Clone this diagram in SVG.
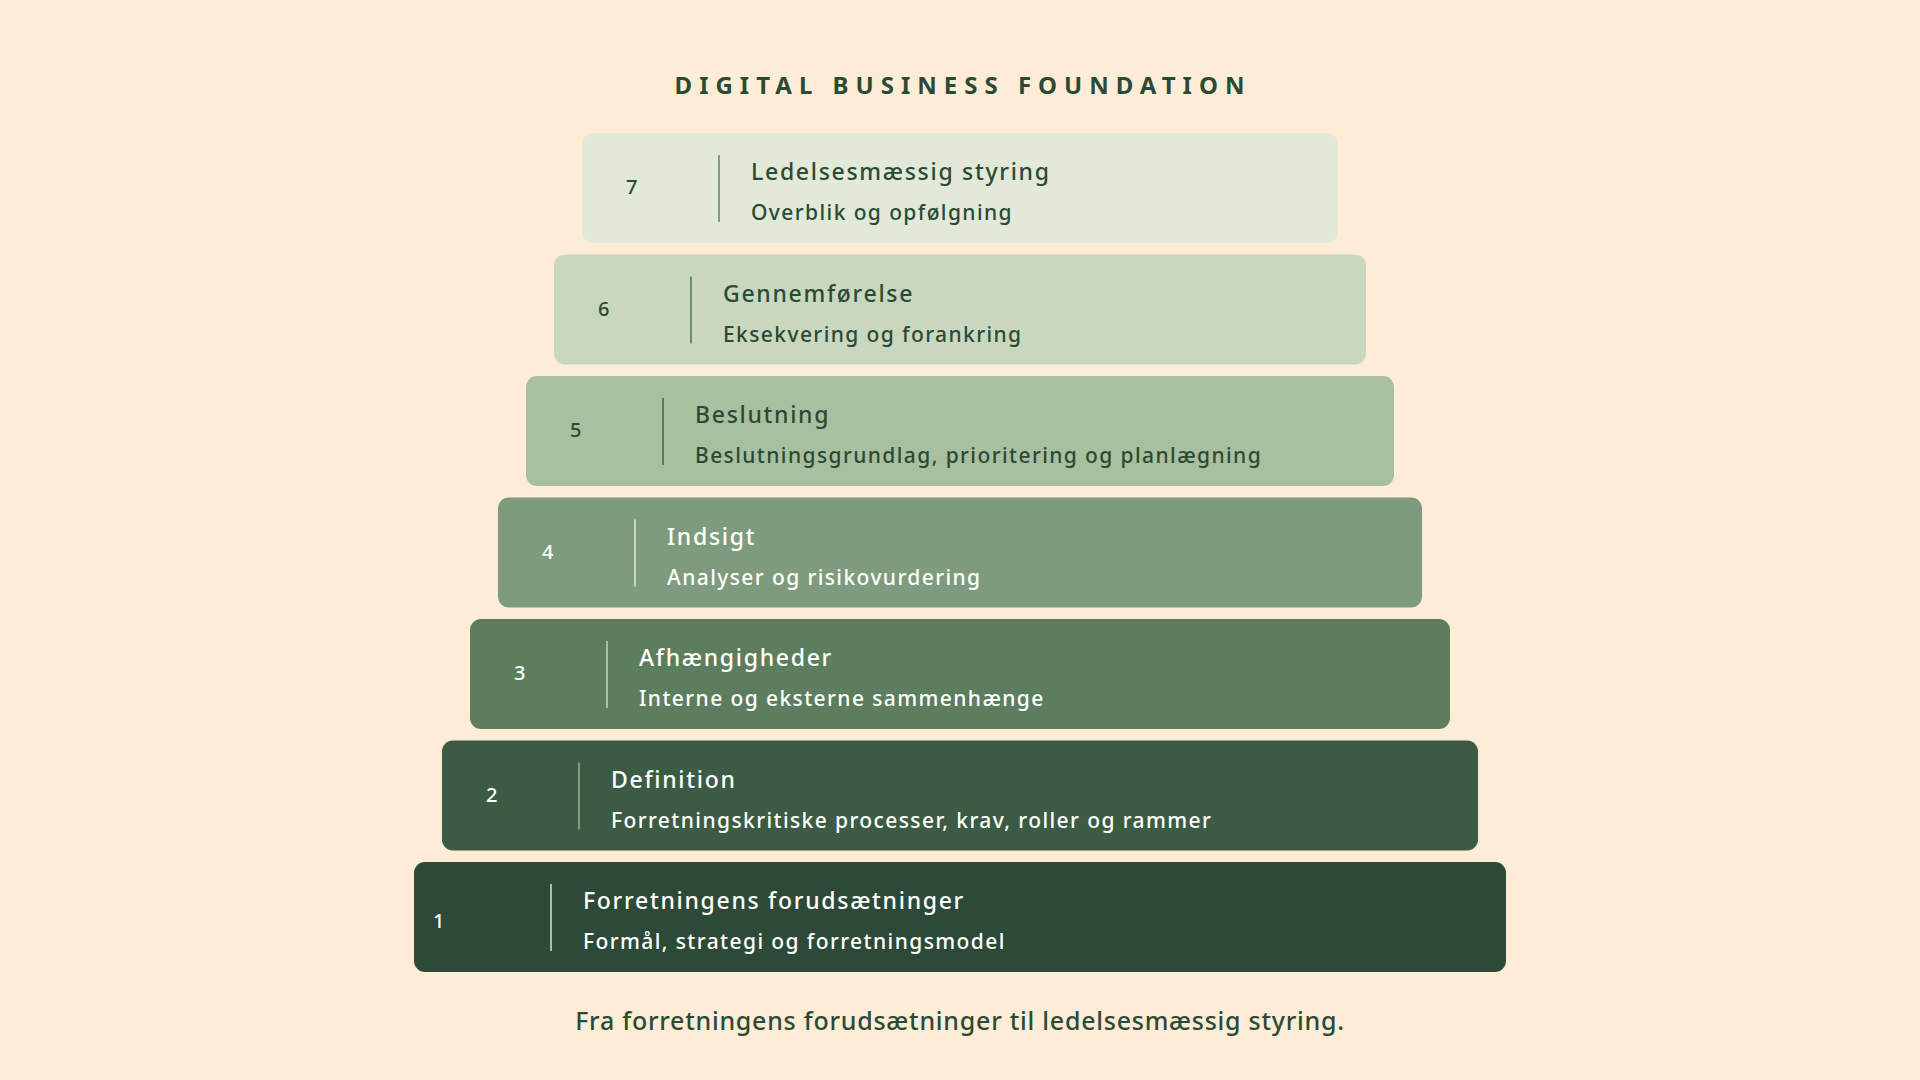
<svg xmlns="http://www.w3.org/2000/svg" width="1920" height="1080" viewBox="0 0 1920 1080">
<style>
  .bg{fill:#FEEDD6}
  .heading{font-family:"Noto Sans","DejaVu Sans",sans-serif;font-size:24px;font-weight:700;letter-spacing:7px;fill:#2B4A36}
  .footer{font-family:"Noto Sans","DejaVu Sans",sans-serif;font-size:25px;font-weight:500;letter-spacing:0.75px;fill:#2B4A36}
  .num{font-family:"Noto Sans","DejaVu Sans",sans-serif;font-size:20px;font-weight:500}
  .ttl{font-family:"Noto Sans","DejaVu Sans",sans-serif;font-size:23px;font-weight:500;letter-spacing:1.7px}
  .sub{font-family:"Noto Sans","DejaVu Sans",sans-serif;font-size:21px;font-weight:500;letter-spacing:1.4px}
  .dark{fill:#2B4A36}
  .light{fill:#FFFFFF}
  .div{stroke-width:2}
</style>
<rect class="bg" x="0" y="0" width="1920" height="1080"/>
<text class="heading" x="963" y="94" text-anchor="middle">DIGITAL BUSINESS FOUNDATION</text>

<g id="layer7">
  <rect x="582" y="133" width="756" height="110" rx="11" fill="#E2E9D8"/>
  <text class="num dark" x="626" y="194">7</text>
  <line class="div" x1="719" y1="155" x2="719" y2="222" stroke="#7F9C7F"/>
  <text class="ttl dark" x="751" y="180">Ledelsesmæssig styring</text>
  <text class="sub dark" x="751" y="220">Overblik og opfølgning</text>
</g>
<g id="layer6">
  <rect x="554" y="254.5" width="812" height="110" rx="11" fill="#C9D7BE"/>
  <text class="num dark" x="598" y="315.5">6</text>
  <line class="div" x1="691" y1="276.5" x2="691" y2="343.5" stroke="#6F8C70"/>
  <text class="ttl dark" x="723" y="301.5">Gennemførelse</text>
  <text class="sub dark" x="723" y="341.5">Eksekvering og forankring</text>
</g>
<g id="layer5">
  <rect x="526" y="376" width="868" height="110" rx="11" fill="#A8C0A0"/>
  <text class="num dark" x="570" y="437">5</text>
  <line class="div" x1="663" y1="398" x2="663" y2="465" stroke="#5C7C5E"/>
  <text class="ttl dark" x="695" y="423">Beslutning</text>
  <text class="sub dark" x="695" y="463">Beslutningsgrundlag, prioritering og planlægning</text>
</g>
<g id="layer4">
  <rect x="498" y="497.5" width="924" height="110" rx="11" fill="#7E9B7E"/>
  <text class="num light" x="542" y="558.5">4</text>
  <line class="div" x1="635" y1="519.5" x2="635" y2="586.5" stroke="#C9D7BE"/>
  <text class="ttl light" x="667" y="544.5">Indsigt</text>
  <text class="sub light" x="667" y="584.5">Analyser og risikovurdering</text>
</g>
<g id="layer3">
  <rect x="470" y="619" width="980" height="110" rx="11" fill="#5D7D5F"/>
  <text class="num light" x="514" y="680">3</text>
  <line class="div" x1="607" y1="641" x2="607" y2="708" stroke="#A8C0A0"/>
  <text class="ttl light" x="639" y="666">Afhængigheder</text>
  <text class="sub light" x="639" y="706">Interne og eksterne sammenhænge</text>
</g>
<g id="layer2">
  <rect x="442" y="740.5" width="1036" height="110" rx="11" fill="#3C5B44"/>
  <text class="num light" x="486" y="801.5">2</text>
  <line class="div" x1="579" y1="762.5" x2="579" y2="829.5" stroke="#7E9B7E"/>
  <text class="ttl light" x="611" y="787.5">Definition</text>
  <text class="sub light" x="611" y="827.5">Forretningskritiske processer, krav, roller og rammer</text>
</g>
<g id="layer1">
  <rect x="414" y="862" width="1092" height="110" rx="11" fill="#2C4A37"/>
  <text class="num light" x="433" y="928">1</text>
  <line class="div" x1="551" y1="884" x2="551" y2="951" stroke="#A8C0A0"/>
  <text class="ttl light" x="583" y="909">Forretningens forudsætninger</text>
  <text class="sub light" x="583" y="949">Formål, strategi og forretningsmodel</text>
</g>
<g id="connectors"></g>

<text class="footer" x="960" y="1030" text-anchor="middle">Fra forretningens forudsætninger til ledelsesmæssig styring.</text>
</svg>
